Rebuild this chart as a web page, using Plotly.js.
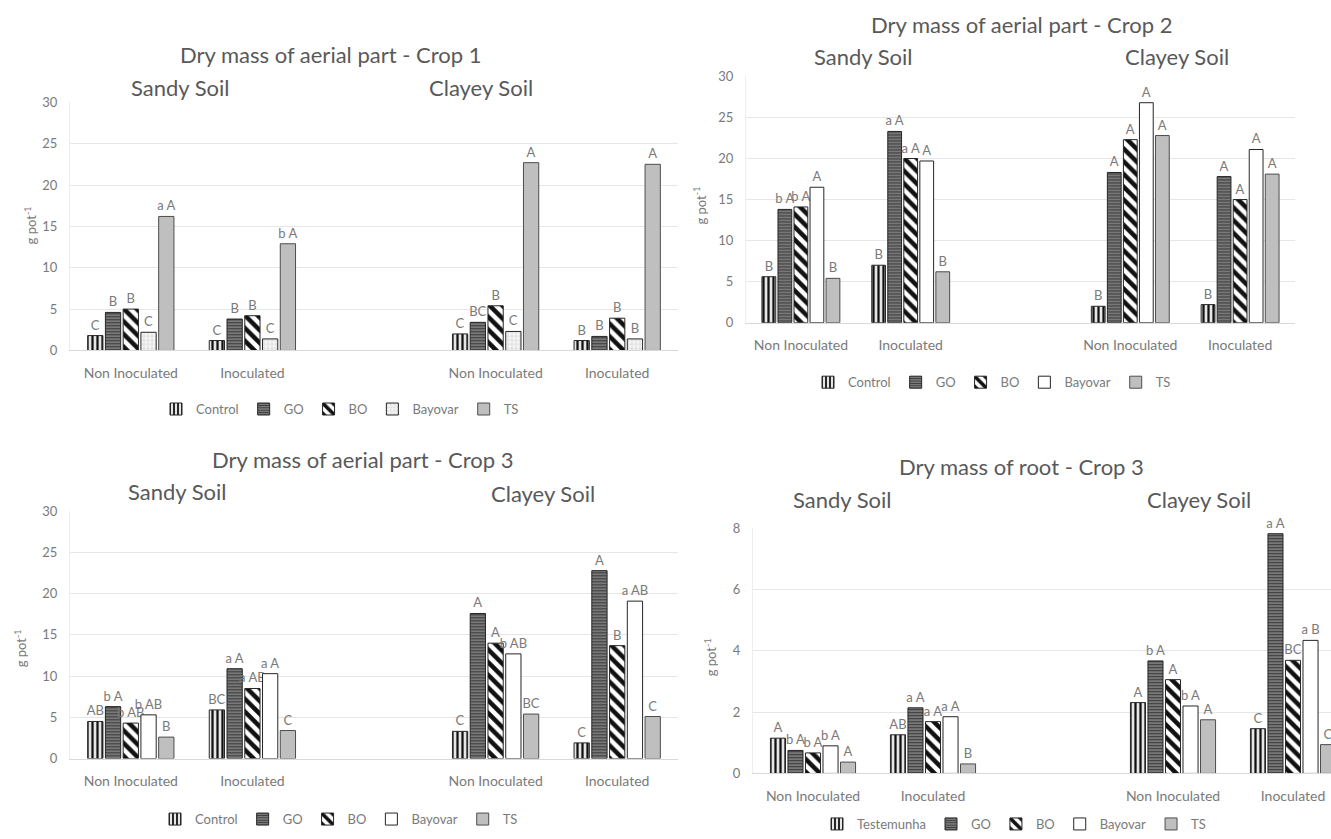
<!DOCTYPE html>
<html>
<head>
<meta charset="utf-8">
<script src="https://cdn.plot.ly/plotly-3.0.1.min.js"></script>
<style>
html,body{margin:0;padding:0;background:#fff;overflow:hidden;}
#chart{width:1331px;height:839px;}
</style>
</head>
<body>
<div id="chart"></div>
<script>
// ---------- DATA ----------
const groupLabels = ["Non Inoculated", "Inoculated", "Non Inoculated", "Inoculated"];
const soilLabels = ["Sandy Soil", "Clayey Soil"];
const treatments = ["Control", "GO", "BO", "Bayovar", "TS"];
const treatmentsRoot = ["Testemunha", "GO", "BO", "Bayovar", "TS"];
const panelTitles = ["Dry mass of aerial part - Crop 1", "Dry mass of aerial part - Crop 2",
                     "Dry mass of aerial part - Crop 3", "Dry mass of root - Crop 3"];
const yTitle = "g pot<sup>-1</sup>";

// Crop 1 (aerial) - order: Sandy NI, Sandy I, Clayey NI, Clayey I
const c1Control = [1.8, 1.2, 2.0, 1.2];
const c1GO      = [4.6, 3.8, 3.4, 1.7];
const c1BO      = [5.0, 4.2, 5.4, 3.9];
const c1Bayovar = [2.2, 1.4, 2.3, 1.4];
const c1TS      = [16.2, 12.9, 22.7, 22.5];
const c1ControlLbl = ["C", "C", "C", "B"];
const c1GOLbl      = ["B", "B", "BC", "B"];
const c1BOLbl      = ["B", "B", "B", "B"];
const c1BayovarLbl = ["C", "C", "C", "B"];
const c1TSLbl      = ["a A", "b A", "A", "A"];

// Crop 2 (aerial)
const c2Control = [5.6, 7.0, 2.0, 2.2];
const c2GO      = [13.8, 23.3, 18.3, 17.8];
const c2BO      = [14.1, 20.0, 22.3, 15.0];
const c2Bayovar = [16.5, 19.7, 26.8, 21.1];
const c2TS      = [5.4, 6.2, 22.8, 18.1];
const c2ControlLbl = ["B", "B", "B", "B"];
const c2GOLbl      = ["b A", "a A", "A", "A"];
const c2BOLbl      = ["b A", "a A", "A", "A"];
const c2BayovarLbl = ["A", "A", "A", "A"];
const c2TSLbl      = ["B", "B", "A", "A"];

// Crop 3 (aerial)
const c3Control = [4.5, 5.9, 3.3, 1.9];
const c3GO      = [6.3, 10.9, 17.6, 22.8];
const c3BO      = [4.3, 8.5, 14.0, 13.7];
const c3Bayovar = [5.3, 10.3, 12.7, 19.1];
const c3TS      = [2.6, 3.4, 5.4, 5.1];
const c3ControlLbl = ["AB", "BC", "C", "C"];
const c3GOLbl      = ["b A", "a A", "A", "A"];
const c3BOLbl      = ["b AB", "a AB", "A", "B"];
const c3BayovarLbl = ["b AB", "a A", "b AB", "a AB"];
const c3TSLbl      = ["B", "C", "BC", "C"];

// Crop 3 (root)
const rControl = [1.15, 1.26, 2.31, 1.46];
const rGO      = [0.75, 2.14, 3.67, 7.82];
const rBO      = [0.67, 1.69, 3.06, 3.69];
const rBayovar = [0.90, 1.85, 2.20, 4.34];
const rTS      = [0.37, 0.31, 1.75, 0.94];
const rControlLbl = ["A", "AB", "A", "C"];
const rGOLbl      = ["b A", "a A", "b A", "a A"];
const rBOLbl      = ["b A", "a A", "A", "BC"];
const rBayovarLbl = ["b A", "a A", "b A", "a B"];
const rTSLbl      = ["A", "B", "A", "C"];

// ---------- STYLE ----------
const W = 1331, H = 839;
const px = v => v / W;
const py = v => 1 - v / H;
const xPos = [0, 1, 3, 4];   // gap slot between the two soils
const FONT = "Lato, 'Open Sans', sans-serif";
const TXT = "#595959", TXT2 = "#7a7a7a";

function styleFor(i, panel) {
  const base = {line: {color: "#262626", width: 1}};
  if (i === 0) return Object.assign(base, {color: "#e6e6e6",
      pattern: {shape: "|", fgcolor: "#111111", bgcolor: "#e6e6e6", size: 5, solidity: 0.45}});
  if (i === 1) return Object.assign(base, {color: "#8c8c8c",
      pattern: {shape: "-", fgcolor: "#3a3a3a", bgcolor: "#8c8c8c", size: 3, solidity: 0.5}});
  if (i === 2) return Object.assign(base, {color: "#ffffff",
      pattern: {shape: "\\", fgcolor: "#111111", bgcolor: "#ffffff", size: 9, solidity: 0.5}});
  if (i === 3) {
    if (panel === 0) return Object.assign(base, {color: "#f4f4f4",
      pattern: {shape: "+", fgcolor: "#bdbdbd", bgcolor: "#f7f7f7", size: 4, solidity: 0.2}});
    return Object.assign(base, {color: "#ffffff"});
  }
  return {color: "#bfbfbf", line: {color: "#4d4d4d", width: 1}};
}

const panels = [
  {names: treatments, vals: [c1Control, c1GO, c1BO, c1Bayovar, c1TS],
   lbls: [c1ControlLbl, c1GOLbl, c1BOLbl, c1BayovarLbl, c1TSLbl]},
  {names: treatments, vals: [c2Control, c2GO, c2BO, c2Bayovar, c2TS],
   lbls: [c2ControlLbl, c2GOLbl, c2BOLbl, c2BayovarLbl, c2TSLbl]},
  {names: treatments, vals: [c3Control, c3GO, c3BO, c3Bayovar, c3TS],
   lbls: [c3ControlLbl, c3GOLbl, c3BOLbl, c3BayovarLbl, c3TSLbl]},
  {names: treatmentsRoot, vals: [rControl, rGO, rBO, rBayovar, rTS],
   lbls: [rControlLbl, rGOLbl, rBOLbl, rBayovarLbl, rTSLbl]}
];

const labelFont = {family: FONT, size: 13, color: TXT2};
const traces = [];
panels.forEach((p, k) => {
  const suf = k === 0 ? "" : String(k + 1);
  p.names.forEach((nm, i) => {
    traces.push({
      type: "bar", name: nm, x: xPos, y: p.vals[i],
      xaxis: "x" + suf, yaxis: "y" + suf, legend: "legend" + suf,
      marker: styleFor(i, k),
      text: p.lbls[i], textposition: "outside", textangle: 0,
      constraintext: "none", cliponaxis: false,
      textfont: labelFont, outsidetextfont: labelFont,
      hoverinfo: "skip"
    });
  });
});

// geometry (pixels) of each panel
const geo = [
  {x0: 70,  x1: 678,  y0: 353, y1: 103, xr: [-0.5, 4.5], ymax: 30, dt: 5,
   title: [330, 55], sandy: [180, 88], clay: [481, 88], yt: [30, 227], leg: [340, 412]},
  {x0: 746, x1: 1295, y0: 325, y1: 77, xr: [-0.5, 4.5], ymax: 30, dt: 5,
   title: [1022, 25], sandy: [863, 57], clay: [1177, 57], yt: [700, 207], leg: [992, 385]},
  {x0: 70,  x1: 678,  y0: 764, y1: 515, xr: [-0.5, 4.5], ymax: 30, dt: 5,
   title: [362, 463], sandy: [178, 495], clay: [543, 497], yt: [20, 653], leg: [339, 825]},
  {x0: 753, x1: 1331, y0: 779, y1: 532, xr: [-0.5, -0.5 + (1331 - 753) / 120], ymax: 8, dt: 2,
   title: [1022, 470], sandy: [842, 503], clay: [1199, 503], yt: [710, 662], leg: [1014, 830]}
];

const layout = {
  width: W, height: H, margin: {l: 0, r: 0, t: 0, b: 0},
  paper_bgcolor: "#ffffff", plot_bgcolor: "#ffffff",
  barmode: "group", bargap: 0.27, bargroupgap: 0.14,
  font: {family: FONT, color: TXT},
  annotations: []
};

geo.forEach((g, k) => {
  const suf = k === 0 ? "" : String(k + 1);
  layout["xaxis" + suf] = {
    domain: [px(g.x0), px(g.x1)], range: g.xr, anchor: "y" + suf,
    tickmode: "array", tickvals: xPos, ticktext: groupLabels,
    showgrid: false, zeroline: false, showline: true, linecolor: "#d9d9d9", linewidth: 1,
    ticks: "outside", ticklen: 10, tickcolor: "rgba(0,0,0,0)",
    tickfont: {family: FONT, size: 14, color: TXT2}, fixedrange: true
  };
  layout["yaxis" + suf] = {
    domain: [py(g.y0), py(g.y1)], range: [0, g.ymax], dtick: g.dt, anchor: "x" + suf,
    showgrid: true, gridcolor: "#e6e6e6", gridwidth: 1, zeroline: false,
    showline: true, linecolor: "#eeeeee", linewidth: 1,
    ticks: "outside", ticklen: 9, tickcolor: "rgba(0,0,0,0)",
    tickfont: {family: FONT, size: 13, color: TXT2}, fixedrange: true
  };
  layout["legend" + suf] = {
    orientation: "h", x: px(g.leg[0]), y: py(g.leg[1]), xanchor: "center", yanchor: "middle",
    xref: "paper", yref: "paper", font: {family: FONT, size: 13, color: TXT2},
    itemwidth: 30, bgcolor: "rgba(0,0,0,0)", traceorder: "normal"
  };
  layout.annotations.push(
    {text: panelTitles[k], x: px(g.title[0]), y: py(g.title[1]), xref: "paper", yref: "paper",
     showarrow: false, xanchor: "center", yanchor: "middle", font: {family: FONT, size: 22, color: TXT}},
    {text: soilLabels[0], x: px(g.sandy[0]), y: py(g.sandy[1]), xref: "paper", yref: "paper",
     showarrow: false, xanchor: "center", yanchor: "middle", font: {family: FONT, size: 22, color: TXT}},
    {text: soilLabels[1], x: px(g.clay[0]), y: py(g.clay[1]), xref: "paper", yref: "paper",
     showarrow: false, xanchor: "center", yanchor: "middle", font: {family: FONT, size: 22, color: TXT}},
    {text: yTitle, x: px(g.yt[0]), y: py(g.yt[1]), xref: "paper", yref: "paper", textangle: -90,
     showarrow: false, xanchor: "center", yanchor: "middle", font: {family: FONT, size: 13, color: TXT2}}
  );
});

Plotly.newPlot("chart", traces, layout, {displayModeBar: false, staticPlot: true});
</script>
</body>
</html>
